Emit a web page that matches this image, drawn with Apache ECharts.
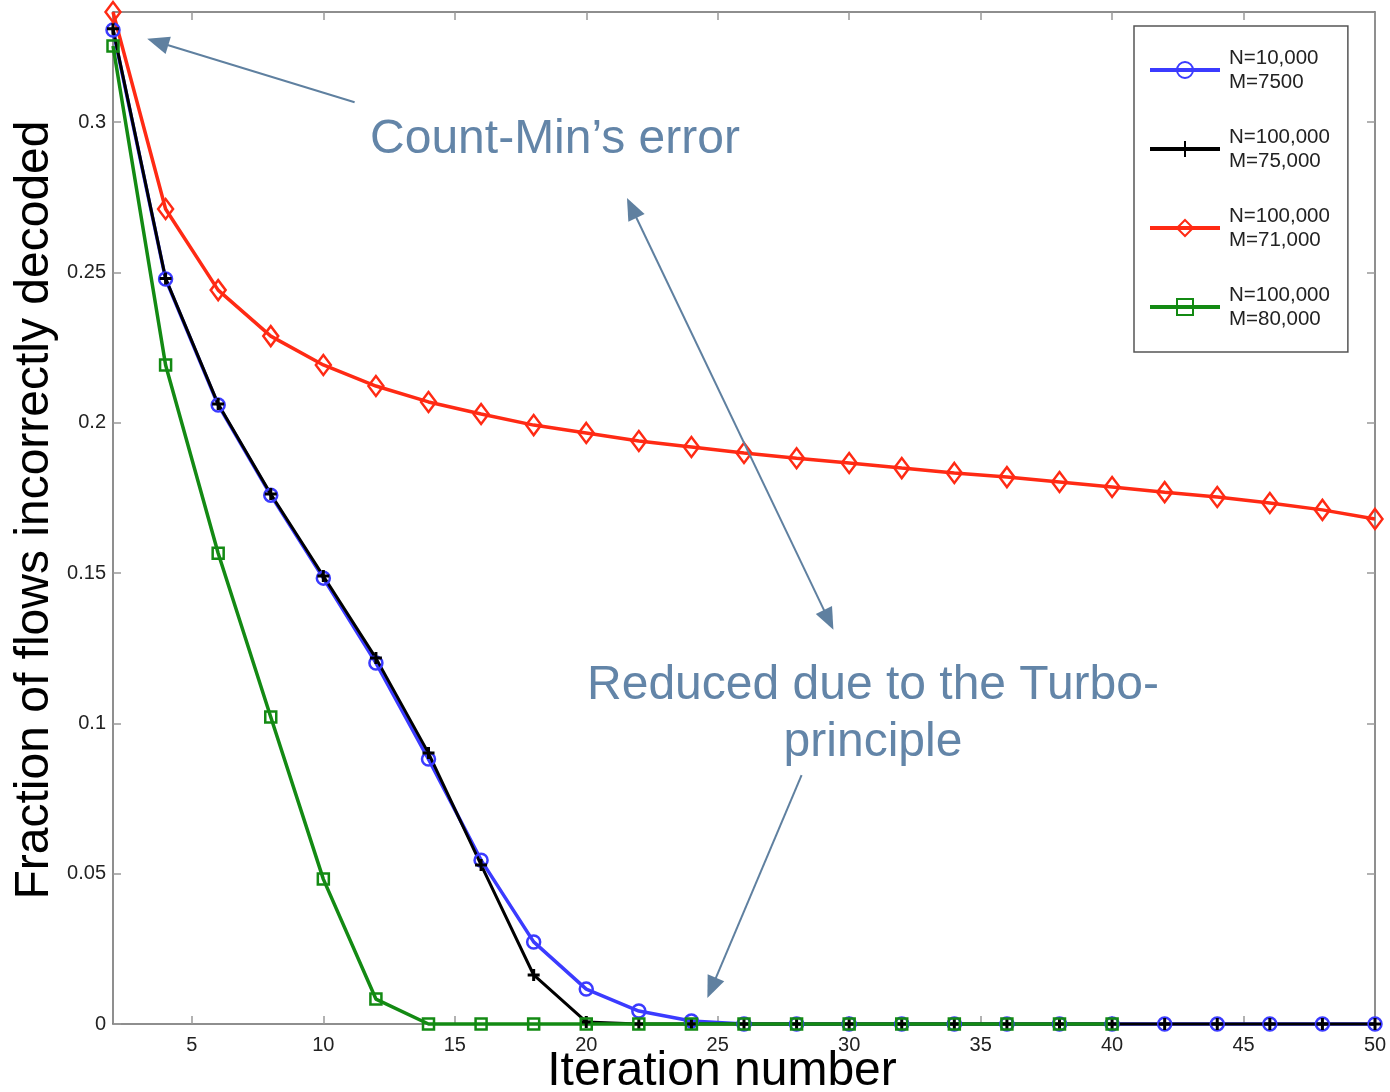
<!DOCTYPE html>
<html>
<head>
<meta charset="utf-8">
<script src="https://cdn.jsdelivr.net/npm/echarts@6/dist/echarts.min.js"></script>
<style>html,body{margin:0;padding:0;background:#fff}#c{width:1390px;height:1092px}</style>
</head>
<body>
<div id="c"></div>
<script>
// ---- data ----
const iterations = [2,4,6,8,10,12,14,16,18,20,22,24,26,28,30,32,34,36,38,40,42,44,46,48,50];
const greenIterations = [2,4,6,8,10,12,14,16,18,20,22,24,26,28,30,32,34,36,38,40];
const blueVals  = [0.3306,0.2478,0.2059,0.1759,0.1483,0.1201,0.0881,0.0545,0.0273,0.0116,0.0043,0.0010,0,0,0,0,0,0,0,0,0,0,0,0,0];
const blackVals = [0.3310,0.2480,0.2062,0.1763,0.1490,0.1217,0.0901,0.0529,0.0163,0.0007,0,0,0,0,0,0,0,0,0,0,0,0,0,0,0];
const redVals   = [0.3366,0.2711,0.2441,0.2288,0.2192,0.2122,0.2069,0.2029,0.1992,0.1966,0.1939,0.1919,0.1899,0.1882,0.1866,0.1849,0.1833,0.1819,0.1803,0.1786,0.1769,0.1753,0.1733,0.1710,0.1680];
const greenVals = [0.3253,0.2192,0.1566,0.1021,0.0482,0.0083,0,0,0,0,0,0,0,0,0,0,0,0,0,0];
const seriesNames = ['N=10,000\nM=7500','N=100,000\nM=75,000','N=100,000\nM=71,000','N=100,000\nM=80,000'];
const xTicks = [5,10,15,20,25,30,35,40,45,50];
const yTicks = [0,0.05,0.1,0.15,0.2,0.25,0.3];
const xRange = [2,50];
const yRange = [0,0.3366];
const xTitle = 'Iteration number';
const yTitle = 'Fraction of flows incorrectly decoded';
const note1 = 'Count-Min\u2019s error';
const note2 = 'Reduced due to the Turbo-\nprinciple';
// annotation arrows in data coordinates [from, to]
const arrowCountMin = [[11.19,0.3066],[3.70,0.3266]];
const arrowTurboA = [[21.73,0.2714],[29.22,0.1344]];
const arrowTurboB = [[28.19,0.0828],[24.77,0.0120]];

const pairs = (xs, ys) => xs.map((x,i)=>[x, ys[i]]);
const FONT = '"Liberation Sans", Arial, Helvetica, sans-serif';
const axisGray = '#6a6a6a';
const noteColor = '#6385a8';

const chart = echarts.init(document.getElementById('c'));

function xAxisCfg(pos, labels) {
  return {
    type: 'value', position: pos, min: xRange[0], max: xRange[1],
    axisLine: {show: true, onZero: false, lineStyle: {color: axisGray, width: 1.5}},
    axisTick: {show: true, inside: true, length: 8, customValues: xTicks, lineStyle: {color: '#999', width: 1.5}},
    axisLabel: {show: labels, customValues: xTicks, fontSize: 20, color: '#222', fontFamily: FONT, margin: 11},
    splitLine: {show: false},
    name: labels ? xTitle : '', nameLocation: 'middle', nameGap: 24, nameMoveOverlap: false,
    nameTextStyle: {fontSize: 48, color: '#000', fontFamily: FONT, padding: [0, 44, 0, 0]}
  };
}
function yAxisCfg(pos, labels) {
  return {
    type: 'value', position: pos, min: yRange[0], max: yRange[1],
    axisLine: {show: true, onZero: false, lineStyle: {color: axisGray, width: 1.5}},
    axisTick: {show: true, inside: true, length: 8, customValues: yTicks, lineStyle: {color: '#999', width: 1.5}},
    axisLabel: {show: labels, customValues: yTicks, fontSize: 20, color: '#222', fontFamily: FONT, margin: 7},
    splitLine: {show: false},
    name: labels ? yTitle : '', nameLocation: 'middle', nameGap: 54, nameMoveOverlap: false,
    nameTextStyle: {fontSize: 48, color: '#000', fontFamily: FONT, padding: [0,0,0,16]}
  };
}

function lineSeries(name, data, color, symbol, size, extra) {
  return Object.assign({
    name, type: 'line', data, clip: false, animation: false,
    symbol, symbolSize: size, showAllSymbol: true,
    lineStyle: {color, width: 3.5},
    itemStyle: {color: 'rgba(255,255,255,0)', borderColor: color, borderWidth: 2.5}
  }, extra || {});
}

const arrowStyle = {color: '#5f80a0', width: 2, type: 'solid'};

const option = {
  backgroundColor: '#fff',
  animation: false,
  grid: {left: 113, right: 15, top: 12, bottom: 68, outerBoundsMode: 'none', containLabel: false},
  xAxis: [xAxisCfg('bottom', true), xAxisCfg('top', false)],
  yAxis: [yAxisCfg('left', true), yAxisCfg('right', false)],
  legend: {
    data: seriesNames, orient: 'vertical', left: 1134, top: 26,
    padding: [20, 18, 21, 14], itemGap: 31, itemWidth: 70, itemHeight: 20,
    backgroundColor: '#fff', borderColor: '#555', borderWidth: 1.5,
    lineStyle: {width: 4},
    textStyle: {fontSize: 20.5, lineHeight: 24, color: '#222', fontFamily: FONT, padding: [0,0,0,4]}
  },
  series: [
    lineSeries(seriesNames[0], pairs(iterations, blueVals), '#3b3bff', 'circle', 13),
    lineSeries(seriesNames[1], pairs(iterations, blackVals), '#000000', 'path://M5,0L5,10M0,5L10,5', 12,
      {lineStyle: {color: '#000', width: 3}, itemStyle: {color: 'rgba(0,0,0,0)', borderColor: '#000', borderWidth: 3}}),
    lineSeries(seriesNames[2], pairs(iterations, redVals), '#ff2a14', 'diamond', [15, 20]),
    lineSeries(seriesNames[3], pairs(greenIterations, greenVals), '#138a13', 'rect', 11),
    {
      name: 'annotations', type: 'line', data: [], silent: true,
      markLine: {
        silent: true, animation: false, symbolSize: [18, 22],
        label: {show: false}, lineStyle: arrowStyle,
        data: [
          [{coord: arrowCountMin[0], symbol: 'none'}, {coord: arrowCountMin[1], symbol: 'triangle'}],
          [{coord: arrowTurboA[0], symbol: 'triangle'}, {coord: arrowTurboA[1], symbol: 'triangle'}],
          [{coord: arrowTurboB[0], symbol: 'none'}, {coord: arrowTurboB[1], symbol: 'triangle'}]
        ]
      }
    }
  ],
  graphic: [
    {type: 'text', x: 555, y: 140, silent: true, z: 100,
     style: {text: note1, fill: noteColor, font: '48px ' + FONT, textAlign: 'center', textVerticalAlign: 'middle'}},
    {type: 'text', x: 873, y: 714, silent: true, z: 100,
     style: {text: note2, fill: noteColor, font: '48px ' + FONT, lineHeight: 57, textAlign: 'center', textVerticalAlign: 'middle'}}
  ]
};
chart.setOption(option);
</script>
</body>
</html>
